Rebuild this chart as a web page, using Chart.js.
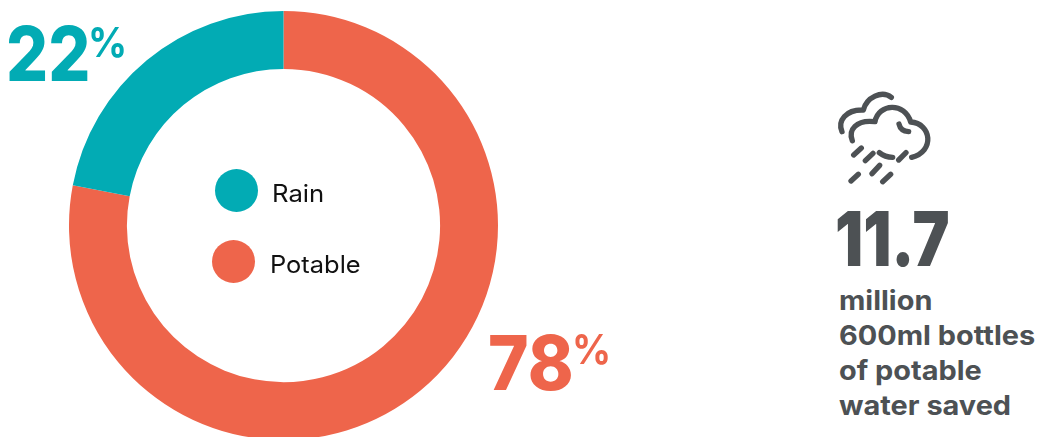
<!DOCTYPE html>
<html>
<head>
<meta charset="utf-8">
<title>Water sources</title>
<script src="https://cdn.jsdelivr.net/npm/chart.js@4"></script>
<style>
  html, body { margin: 0; padding: 0; background: #fff; width: 1038px; height: 437px; overflow: hidden; }
  body { position: relative; font-family: Inter, "Open Sans", sans-serif; }
  #ring { position: absolute; left: 69px; top: 11px; width: 429px; height: 429px; }
  .t { position: absolute; white-space: nowrap; line-height: 1; transform-origin: 0 0; }
  .dot { position: absolute; width: 43px; height: 43px; border-radius: 50%; }
  #icon { position: absolute; left: 820px; top: 80px; }
</style>
</head>
<body>
<div id="ring"><canvas id="chart" width="429" height="429"></canvas></div>
<div id="labels"></div>
<svg id="icon" width="130" height="110" viewBox="0 0 390 330" fill="none" stroke="#4d5154" stroke-width="16" stroke-linecap="round" stroke-linejoin="round">
  <path d="M66 155C52 122 78 88 130 90C140 52 185 30 214 52"/>
  <path d="M97 182C84 150 108 118 165 125C175 70 255 65 272 126C335 130 345 215 275 232"/>
  <path d="M178 218C190 228 204 232 218 232"/>
  <path d="M237 132C240 146 250 154 266 155"/>
  <path d="M101 225L124 204M136 242L159 220M236 240L258 218M156 281L179 256M93 303L115 283M188 305L212 283"/>
</svg>
<script>
const categories = ["Potable", "Rain"];
const shares = [78, 22];
const ringColors = ["#ee654b", "#02abb4"];
const statValue = "11.7";
const statLines = ["million", "600ml bottles", "of potable", "water saved"];
const ink = "#4d5154";

new Chart(document.getElementById("chart"), {
  type: "doughnut",
  data: {
    labels: categories,
    datasets: [{ data: shares, backgroundColor: ringColors, borderWidth: 0, hoverOffset: 0 }]
  },
  options: {
    responsive: false,
    animation: false,
    cutout: "73%",
    layout: { padding: 0 },
    plugins: { legend: { display: false }, tooltip: { enabled: false } }
  }
});

const host = document.getElementById("labels");

// Places a text so its baseline sits at y and its start at x.
function put(text, x, baseline, size, weight, color, sx) {
  const el = document.createElement("div");
  el.className = "t";
  el.textContent = text;
  el.style.cssText = `left:${x}px;top:${baseline - size * 0.86}px;font-size:${size}px;font-weight:${weight};color:${color};transform:scaleX(${sx || 1})`;
  host.appendChild(el);
}

function dot(x, y, color) {
  const el = document.createElement("div");
  el.className = "dot";
  el.style.cssText = `left:${x}px;top:${y}px;background:${color}`;
  host.appendChild(el);
}

put(String(shares[1]), 6, 80, 76, 800, ringColors[1], 0.87);
put("%", 88, 57, 41, 700, ringColors[1], 0.94);
put(String(shares[0]), 488, 389, 76, 800, ringColors[0], 0.91);
put("%", 572, 364, 41, 700, ringColors[0], 0.94);

dot(215, 169, ringColors[1]);
dot(212, 240, ringColors[0]);
put(categories[1], 272, 203, 24, 400, "#111", 1.07);
put(categories[0], 270, 274, 24, 400, "#111", 1.06);

put(statValue, 835, 265, 76, 900, ink, 0.82);
statLines.forEach((line, i) => put(line, 839, 310 + i * 35, 27, 700, ink, 1.07));
</script>
</body>
</html>
